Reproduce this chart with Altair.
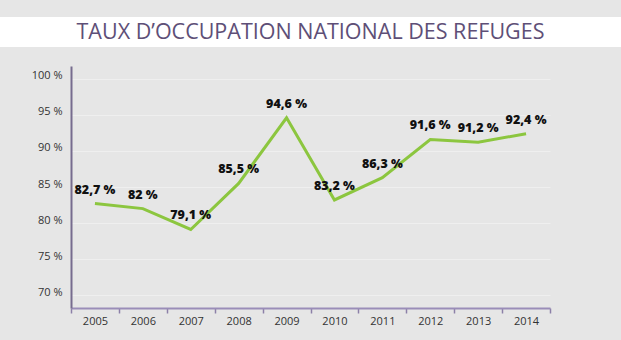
import altair as alt
import pandas as pd

# --- data ---
annees = ["2005", "2006", "2007", "2008", "2009", "2010", "2011", "2012", "2013", "2014"]
taux = [82.7, 82.0, 79.1, 85.5, 94.6, 83.2, 86.3, 91.6, 91.2, 92.4]
graduations = [70, 75, 80, 85, 90, 95, 100]
titre = "TAUX D’OCCUPATION NATIONAL DES REFUGES"

df = pd.DataFrame({"annee": annees, "taux": taux})

FONT = "Open Sans"
GREEN = "#8cc63f"
PURPLE = "#5e4f77"

x_enc = alt.X(
    "annee:O",
    sort=annees,
    title=None,
    scale=alt.Scale(type="band", paddingInner=0, paddingOuter=0),
    axis=alt.Axis(
        labelAngle=0,
        tickBand="extent",
        tickOffset=-8,
        tickSize=5,
        tickWidth=1.5,
        tickColor="#8c80a8",
        domainColor="#9a8db8",
        domainWidth=2,
        labelFont=FONT,
        labelFontSize=11,
        labelColor="#333333",
        labelPadding=2,
        grid=False,
    ),
)
y_enc = alt.Y(
    "taux:Q",
    title=None,
    scale=alt.Scale(domain=[68.2, 101.8], nice=False, zero=False),
    axis=alt.Axis(
        values=graduations,
        labelExpr="datum.value + ' %'",
        ticks=False,
        domainColor="#776c8f",
        domainWidth=2,
        grid=True,
        gridColor="#efefef",
        gridWidth=1,
        labelFont=FONT,
        labelFontSize=11,
        labelColor="#333333",
        labelPadding=9,
        labelOffset=-3,
    ),
)

base = alt.Chart(df)

ligne = base.mark_line(color=GREEN, strokeWidth=3).encode(x=x_enc, y=y_enc)

etiquettes = (
    base.transform_calculate(
        lbl="replace(format(datum.taux, '.1~f'), '.', ',') + ' %'"
    )
    .mark_text(dy=-14, fontWeight=800, fontSize=12.5, font=FONT, color="#111111")
    .encode(x=x_enc, y=y_enc, text="lbl:N")
)

bandeau = (
    alt.Chart(alt.Data(values=[{}]))
    .mark_rect(color="white")
    .encode(x=alt.value(-71), x2=alt.value(550), y=alt.value(-49), y2=alt.value(-19))
)

titre_txt = (
    alt.Chart(alt.Data(values=[{"t": titre}]))
    .mark_text(font=FONT, fontSize=21.5, fontWeight=500, color=PURPLE, baseline="middle", align="center")
    .encode(x=alt.value(239.5), y=alt.value(-33), text="t:N")
)

chart = (
    alt.layer(bandeau, titre_txt, ligne, etiquettes)
    .properties(
        width=479,
        height=242,
        padding={"left": 71, "top": 66, "right": 71, "bottom": 32},
        autosize=alt.AutoSizeParams(type="none"),
        background="#e6e6e6",
    )
    .configure_view(stroke=None)
)

chart.save("out.html", embed_options={"renderer": "svg", "actions": False})
